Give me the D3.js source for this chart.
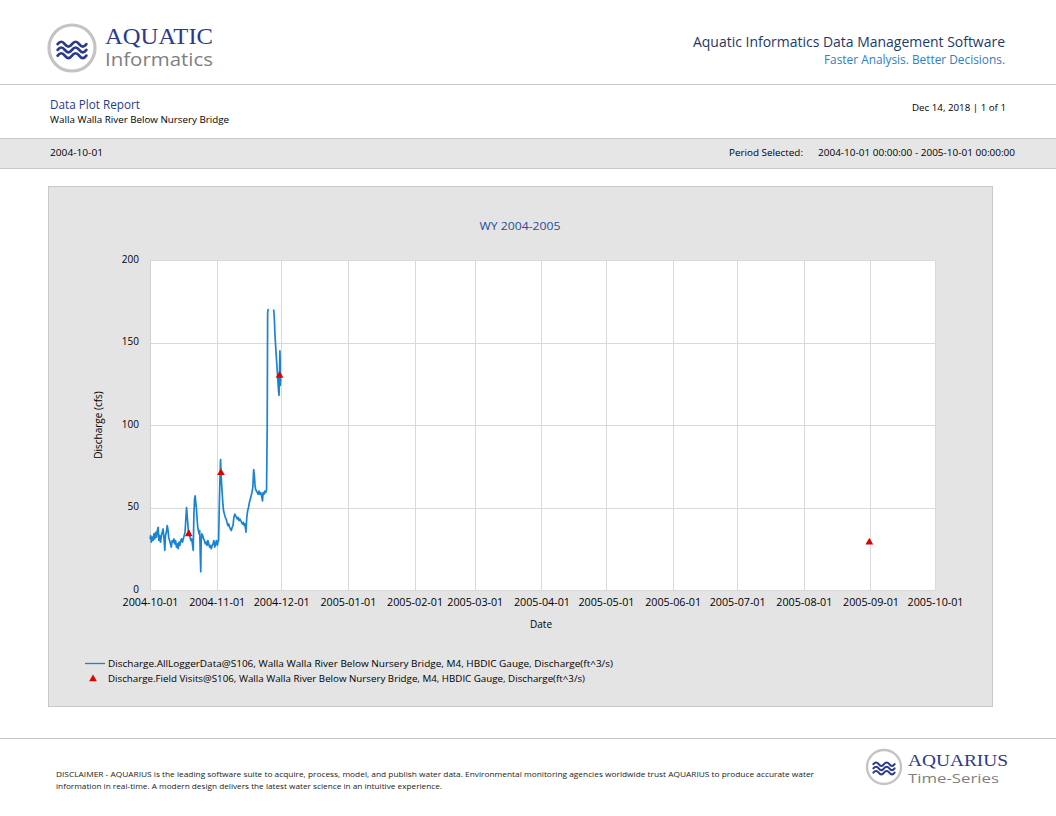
<!DOCTYPE html>
<html>
<head>
<meta charset="utf-8">
<script src="https://cdn.jsdelivr.net/npm/d3@7"></script>
<style>
  body { margin: 0; background: #fff; }
  text { font-family: "Open Sans", "Noto Sans", sans-serif; }
</style>
</head>
<body>
<div class="report"></div>
<script>
// logger series: days after 2004-10-01 00:00, discharge in cfs (null = gap)
const loggerDay = [0, 0.3, 0.6, 1.0, 1.4, 1.8, 2.2, 2.6, 3.0, 3.4, 3.8, 4.1, 4.5, 4.9, 5.3, 5.7, 6.1, 6.5, 6.9, 7.2,
  7.6, 8.0, 8.3, 8.7, 9.1, 9.5, 9.9, 10.3, 10.7, 11.1, 11.5, 11.9, 12.3, 12.7, 13.1, 13.5, 13.9, 14.3, 14.7, 15.1,
  15.5, 15.9, 16.3, 16.7, 17.0, 17.3, 17.6, 17.9, 18.2, 18.6, 19.0, 19.4, 19.8, 20.1, 20.4, 20.7, 21.0, 21.3, 21.6, 21.9,
  22.2, 22.5, 22.8, 23.1, 23.4, 23.6, 23.8, 24.1, 24.5, 24.9, 25.3, 25.7, 26.1, 26.5, 26.9, 27.3, 27.7, 28.1, 28.5, 28.9,
  29.3, 29.7, 30.1, 30.5, 30.9, 31.3, 31.6, 31.9, 32.2, 32.5, 32.8, 33.0, 33.3, 33.6, 33.9, 34.2, 34.6, 35.0, 35.4, 35.8,
  36.2, 36.6, 37.0, 37.4, 37.8, 38.2, 38.6, 39.0, 39.4, 39.8, 40.2, 40.6, 41.0, 41.4, 41.8, 42.2, 42.6, 43.0, 43.4, 43.8,
  44.2, 44.6, 45.0, 45.4, 45.8, 46.2, 46.6, 47.0, 47.4, 47.8, 48.2, 48.5, 48.8, 49.1, 49.5, 49.9, 50.3, 50.7, 51.1, 51.5,
  51.9, 52.3, 52.6, 53.0, 53.4, 53.8, 54.2, 54.5, 54.7, 54.9, 55.2, 56.0, 57.5, 57.8, 58.1, 58.5, 58.9, 59.2, 59.5, 59.8,
  60.0, 60.2, 60.4, 60.5, 60.6, 60.8];
const loggerCfs = [31, 33, 29, 32, 30, 34, 31, 35, 32, 36, 38, 30, 33, 29, 33, 35, 37, 31, 24, 33,
  35, 39, 37, 32, 30, 28, 26, 30, 29, 31, 28, 30, 26, 28, 25, 29, 27, 30, 31, 29,
  31, 33, 35, 44, 50, 45, 40, 34, 36, 32, 30, 31, 27, 24, 45, 55, 57, 53, 49, 43,
  38, 36, 34, 36, 20, 11, 30, 34, 33, 31, 30, 28, 29, 27, 30, 28, 26, 27, 25, 27,
  28, 30, 26, 28, 30, 27, 29, 30, 50, 66, 79, 72, 64, 58, 52, 48, 46, 44, 43, 41,
  39, 40, 38, 37, 36, 38, 39, 44, 46, 45, 44, 43, 44, 42, 43, 42, 41, 40, 41, 39,
  40, 35, 44, 48, 50, 53, 55, 57, 59, 62, 73, 70, 64, 61, 60, 59, 58, 60, 58, 59,
  57, 54, 59, 58, 60, 59, 61, 100, 168, 170, 170, null, 170, 165, 155, 146, 138, 132, 126, 120,
  118, 130, 145, 140, 124, 128];

// field visits
const visitDates = ['2004-10-19T00:00', '2004-11-03T00:00', '2004-11-30T06:00', '2005-08-31T11:00'];
const visitCfs = [34, 71, 130, 29];

const yTicks = [0, 50, 100, 150, 200];
const periodStart = new Date(2004, 9, 1);
const periodEnd = new Date(2005, 9, 1);

const loggerName = 'Discharge.AllLoggerData@S106, Walla Walla River Below Nursery Bridge, M4, HBDIC Gauge, Discharge(ft^3/s)';
const visitName = 'Discharge.Field Visits@S106, Walla Walla River Below Nursery Bridge, M4, HBDIC Gauge, Discharge(ft^3/s)';

const W = 1056, H = 816;
const navy = '#2b3a8c', lineGrey = '#c8c8c8';

const svg = d3.select('.report').append('svg')
  .attr('width', W).attr('height', H);

function txt(g, x, y, s, size, fill, anchor, len) {
  const t = g.append('text').attr('x', x).attr('y', y).text(s)
    .attr('font-size', size).attr('fill', fill || '#000')
    .attr('text-anchor', anchor || 'start');
  if (len) t.attr('textLength', len).attr('lengthAdjust', 'spacingAndGlyphs');
  return t;
}

// round logo with three waves
function logo(cx, cy, r) {
  const g = svg.append('g').attr('transform', `translate(${cx},${cy})`);
  g.append('circle').attr('r', r).attr('fill', '#fff').attr('stroke', '#c4c4c4').attr('stroke-width', r * 0.14);
  const s = r / 24;
  [-6, 0, 6].forEach(dy => {
    g.append('path')
      .attr('d', `M${-15 * s},${(dy + 2) * s} q${3.75 * s},${-5 * s} ${7.5 * s},0 t${7.5 * s},0 t${7.5 * s},0 t${7.5 * s},0`)
      .attr('fill', 'none').attr('stroke', navy).attr('stroke-width', 2.8 * s).attr('stroke-linecap', 'round');
  });
}

// ---- header
logo(72, 48, 23);
txt(svg, 105, 44, 'AQUATIC', 23.5, navy, 'start', 108).style('font-family', '"Liberation Serif", serif');
txt(svg, 105, 66, 'Informatics', 17.5, '#7f7f7f', 'start', 108);
txt(svg, 1005, 47, 'Aquatic Informatics Data Management Software', 14.5, '#1f3864', 'end', 312);
txt(svg, 1005, 64, 'Faster Analysis. Better Decisions.', 12, '#2e80c0', 'end', 181);
svg.append('line').attr('x1', 0).attr('x2', W).attr('y1', 84.5).attr('y2', 84.5).attr('stroke', lineGrey);

txt(svg, 50, 109, 'Data Plot Report', 12, '#1f3c88', 'start', 90);
txt(svg, 50, 123, 'Walla Walla River Below Nursery Bridge', 9.5, '#000', 'start', 179);
txt(svg, 1006, 111, 'Dec 14, 2018 | 1 of 1', 9.5, '#000', 'end', 94);

svg.append('rect').attr('x', -1).attr('y', 138.5).attr('width', W + 2).attr('height', 30)
  .attr('fill', '#e6e6e6').attr('stroke', lineGrey);
txt(svg, 50, 156, '2004-10-01', 9.5, '#000', 'start', 53);
txt(svg, 729, 156, 'Period Selected:', 9.5, '#000', 'start', 74);
txt(svg, 818, 156, '2004-10-01 00:00:00 - 2005-10-01 00:00:00', 9.5, '#000', 'start', 197);

// ---- chart panel
svg.append('rect').attr('x', 48.5).attr('y', 186.5).attr('width', 944).attr('height', 520)
  .attr('fill', '#e4e4e4').attr('stroke', lineGrey);
txt(svg, 520, 230, 'WY 2004-2005', 11.5, '#1f4e9c', 'middle', 81);

const margin = {top: 260, left: 150};
const w = 785, h = 330;
const plot = svg.append('g').attr('transform', `translate(${margin.left},${margin.top})`);

const x = d3.scaleTime().domain([periodStart, periodEnd]).range([0, w]);
const y = d3.scaleLinear().domain([0, 200]).range([h, 0]);
const months = d3.timeMonth.range(periodStart, d3.timeDay.offset(periodEnd, 1));

plot.append('rect').attr('width', w).attr('height', h).attr('fill', '#fff');

plot.append('g').attr('class', 'grid')
  .selectAll('line.v').data(months).enter().append('line')
    .attr('x1', d => Math.round(x(d)) + 0.5).attr('x2', d => Math.round(x(d)) + 0.5)
    .attr('y1', 0).attr('y2', h).attr('stroke', '#d9d9d9');
plot.append('g').attr('class', 'grid')
  .selectAll('line.h').data(yTicks).enter().append('line')
    .attr('x1', 0).attr('x2', w)
    .attr('y1', d => Math.round(y(d)) + 0.5).attr('y2', d => Math.round(y(d)) + 0.5)
    .attr('stroke', '#d9d9d9');
plot.append('line').attr('x1', 0.5).attr('x2', 0.5).attr('y1', 0).attr('y2', h).attr('stroke', '#d0d0d0');

// axes
const xAxis = plot.append('g').attr('class', 'x axis')
  .attr('transform', `translate(0,${h})`)
  .call(d3.axisBottom(x).tickValues(months).tickFormat(d3.timeFormat('%Y-%m-%d')).tickSize(0).tickPadding(9));
const yAxis = plot.append('g').attr('class', 'y axis')
  .call(d3.axisLeft(y).tickValues(yTicks).tickSize(0).tickPadding(11));
[xAxis, yAxis].forEach(a => {
  a.select('.domain').remove();
  a.selectAll('text').attr('font-size', 10).attr('fill', '#000')
    .style('font-family', '"Open Sans", sans-serif');
});
xAxis.selectAll('text').attr('textLength', 56).attr('lengthAdjust', 'spacingAndGlyphs');
yAxis.selectAll('text').attr('dy', '0.2em');

txt(svg, 541, 628, 'Date', 10, '#000', 'middle');
txt(svg, 0, 0, 'Discharge (cfs)', 10, '#000', 'middle')
  .attr('transform', 'translate(102,425) rotate(-90)');

// series
const logger = loggerDay.map((d, i) => ({t: new Date(+periodStart + d * 864e5), v: loggerCfs[i]}));
const visits = visitDates.map((d, i) => ({t: d3.timeParse('%Y-%m-%dT%H:%M')(d), v: visitCfs[i]}));

plot.append('path').datum(logger)
  .attr('fill', 'none').attr('stroke', '#1a84d0').attr('stroke-width', 1.7)
  .attr('stroke-linejoin', 'round')
  .attr('d', d3.line().defined(d => d.v != null).x(d => x(d.t)).y(d => y(d.v)));

const tri = d3.symbol().type(d3.symbolTriangle).size(26);
plot.selectAll('.visit').data(visits).enter().append('path')
  .attr('class', 'visit')
  .attr('transform', d => `translate(${x(d.t)},${y(d.v)})`)
  .attr('d', tri).attr('fill', '#e00000');

// legend
svg.append('line').attr('x1', 85).attr('x2', 105).attr('y1', 663.5).attr('y2', 663.5)
  .attr('stroke', '#1a84d0').attr('stroke-width', 1.3);
txt(svg, 108, 667, loggerName, 9.5, '#000', 'start', 505);
svg.append('path').attr('transform', 'translate(93,679)').attr('d', tri).attr('fill', '#e00000');
txt(svg, 108, 682, visitName, 9.5, '#000', 'start', 477);

// ---- footer
svg.append('line').attr('x1', 0).attr('x2', W).attr('y1', 738.5).attr('y2', 738.5).attr('stroke', lineGrey);
txt(svg, 56, 777, 'DISCLAIMER - AQUARIUS is the leading software suite to acquire, process, model, and publish water data. Environmental monitoring agencies worldwide trust AQUARIUS to produce accurate water', 7.5, '#222', 'start', 758);
txt(svg, 56, 789, 'information in real-time. A modern design delivers the latest water science in an intuitive experience.', 7.5, '#222', 'start', 386);
logo(884, 767, 17);
txt(svg, 908, 766, 'AQUARIUS', 17, navy, 'start', 100).style('font-family', '"Liberation Serif", serif');
txt(svg, 908, 783, 'Time-Series', 13.5, '#7f7f7f', 'start', 91);
</script>
</body>
</html>
